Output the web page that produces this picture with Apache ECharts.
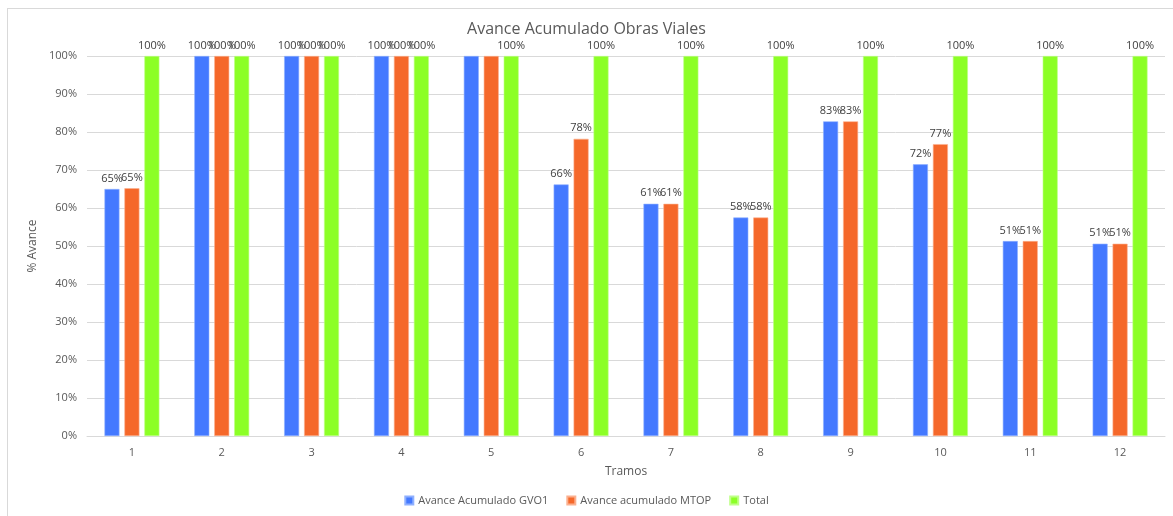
<!DOCTYPE html>
<html>
<head>
<meta charset="utf-8">
<script src="https://cdn.jsdelivr.net/npm/echarts@6/dist/echarts.min.js"></script>
<style>
html,body{margin:0;padding:0;background:#fff;}
#frame{position:absolute;left:7px;top:8px;width:1166px;height:508px;border-top:1px solid #d9d9d9;border-left:1px solid #d9d9d9;}
#chart{position:absolute;left:0;top:0;width:1173px;height:516px;}
</style>
</head>
<body>
<div id="frame"></div>
<div id="chart"></div>
<script>
const categories = ['1','2','3','4','5','6','7','8','9','10','11','12'];
const gvo1 = [65.0, 100, 100, 100, 100, 66.2, 61.1, 57.5, 82.8, 71.5, 51.3, 50.6];
const mtop = [65.2, 100, 100, 100, 100, 78.2, 61.1, 57.5, 82.8, 76.8, 51.3, 50.6];
const total = [100, 100, 100, 100, 100, 100, 100, 100, 100, 100, 100, 100];
const hiddenLabelGvo1 = [4];
const hiddenLabelMtop = [4];

const textColor = '#595959';
const fontFam = '"Open Sans", "Liberation Sans", sans-serif';

function mkData(arr, hidden) {
  return arr.map((v, i) => hidden.includes(i) ? { value: v, label: { show: false } } : v);
}

const labelCfg = {
  show: true,
  position: 'top',
  distance: 5,
  color: '#404040',
  fontSize: 11,
  fontFamily: fontFam,
  formatter: p => Math.round(p.value) + '%'
};

const chart = echarts.init(document.getElementById('chart'), null, { renderer: 'canvas' });
chart.setOption({
  animation: false,
  backgroundColor: 'transparent',
  title: {
    text: 'Avance Acumulado Obras Viales',
    left: 'center',
    top: 16,
    textStyle: { color: textColor, fontSize: 16, fontWeight: 'normal', fontFamily: fontFam }
  },
  legend: {
    bottom: 5,
    left: 'center',
    itemWidth: 8,
    itemHeight: 8,
    itemGap: 18,
    icon: 'rect',
    textStyle: { color: textColor, fontSize: 11, fontFamily: fontFam },
    data: ['Avance Acumulado GVO1', 'Avance acumulado MTOP', 'Total']
  },
  grid: { left: 87, right: 8, top: 56, bottom: 80 },
  xAxis: {
    type: 'category',
    data: categories,
    name: 'Tramos',
    nameLocation: 'middle',
    nameGap: 30,
    nameTextStyle: { color: textColor, fontSize: 12, fontFamily: fontFam },
    axisLine: { lineStyle: { color: '#d9d9d9', width: 1 } },
    axisTick: { show: false },
    axisLabel: { color: textColor, fontSize: 11, fontFamily: fontFam, margin: 11 }
  },
  yAxis: {
    type: 'value',
    min: 0,
    max: 100,
    interval: 10,
    name: '% Avance',
    nameLocation: 'middle',
    nameGap: 48,
    nameRotate: 90,
    nameTextStyle: { color: textColor, fontSize: 12, fontFamily: fontFam },
    axisLine: { show: false },
    axisTick: { show: false },
    axisLabel: { color: textColor, fontSize: 11, fontFamily: fontFam, formatter: '{value}%', margin: 10 },
    splitLine: { lineStyle: { color: '#d9d9d9', width: 1 } }
  },
  series: [
    {
      name: 'Avance Acumulado GVO1', type: 'bar', data: mkData(gvo1, hiddenLabelGvo1),
      barWidth: 15, barGap: '33%',
      itemStyle: { color: '#4479FF', borderColor: '#8fb0ff', borderWidth: 0.6 },
      label: labelCfg
    },
    {
      name: 'Avance acumulado MTOP', type: 'bar', data: mkData(mtop, hiddenLabelMtop),
      barWidth: 15, barGap: '33%',
      itemStyle: { color: '#F5682A', borderColor: '#fbb08f', borderWidth: 0.6 },
      label: labelCfg
    },
    {
      name: 'Total', type: 'bar', data: total,
      barWidth: 15, barGap: '33%',
      itemStyle: { color: '#8CFF26', borderColor: '#bfff88', borderWidth: 0.6 },
      label: labelCfg
    }
  ]
});
</script>
</body>
</html>
